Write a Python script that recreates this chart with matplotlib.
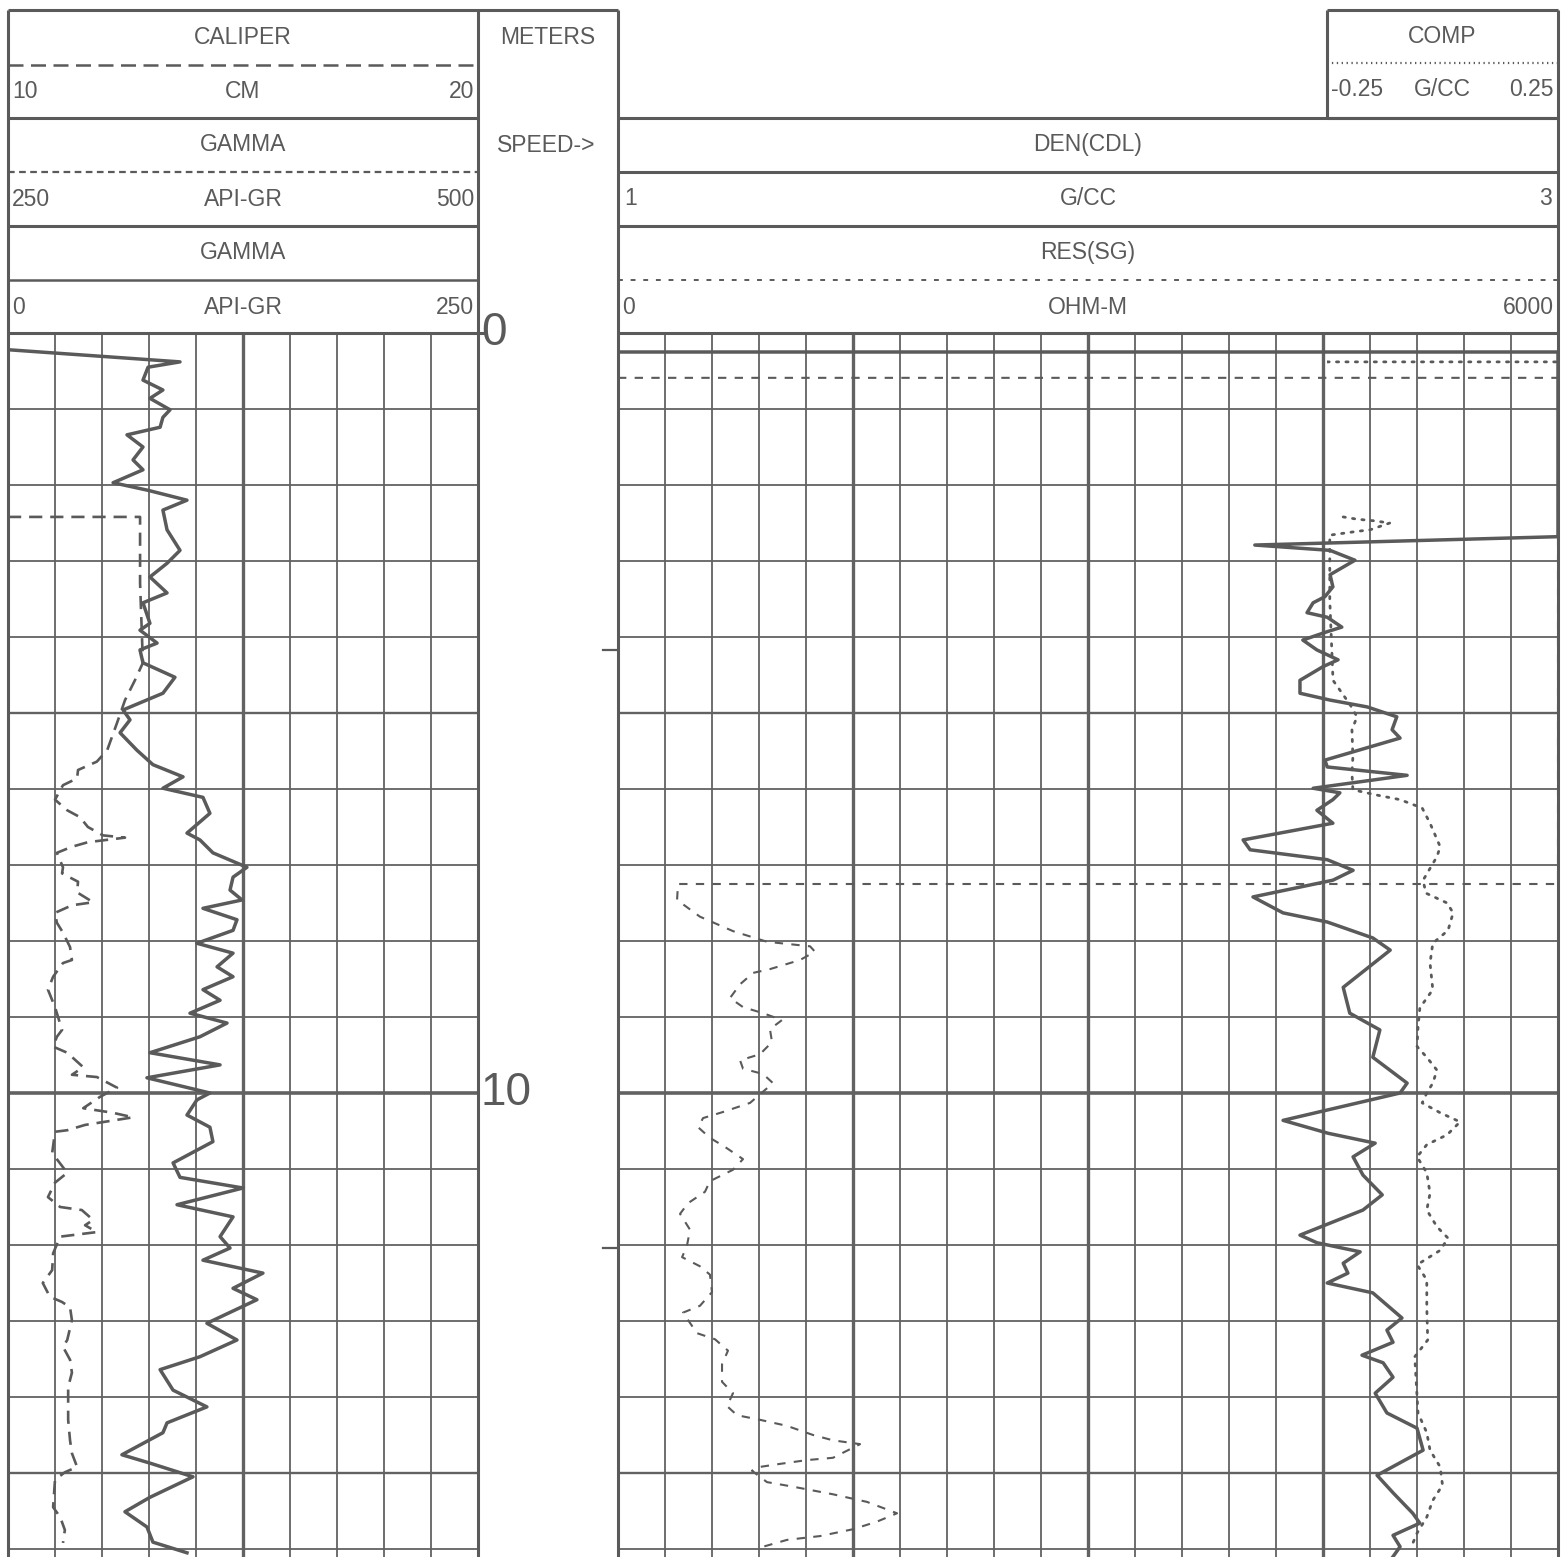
import matplotlib
matplotlib.use("Agg")
import matplotlib.pyplot as plt
import numpy as np

plt.rcParams['font.family'] = ['Liberation Sans', 'DejaVu Sans']

# ---------------- data ----------------
GR_DEPTH = [0.22, 0.38, 0.45, 0.62, 0.75, 0.86, 1.01, 1.11, 1.24, 1.34, 1.50, 1.67, 1.80, 1.97, 2.07, 2.20,
            2.33, 2.59, 2.86, 3.03, 3.21, 3.42, 3.55, 3.82, 3.91, 4.08, 4.17, 4.34, 4.53, 4.74, 4.96, 5.09,
            5.26, 5.49, 5.68, 5.84, 5.99, 6.11, 6.32, 6.58, 6.67, 6.84, 7.03, 7.16, 7.33, 7.46, 7.57, 7.72,
            7.86, 8.03, 8.16, 8.34, 8.47, 8.64, 8.78, 8.95, 9.08, 9.26, 9.47, 9.63, 9.80, 10.0, 10.09, 10.29,
            10.45, 10.64, 10.92, 11.11, 11.25, 11.47, 11.63, 11.89, 12.04, 12.20, 12.37, 12.57, 12.72, 13.03,
            13.25, 13.47, 13.64, 13.91, 14.13, 14.34, 14.47, 14.76, 14.87, 15.05, 15.32, 15.51, 15.71, 15.91, 16.05]
GR_VALUE = [0, 91.5, 74.5, 71.8, 82.4, 75.5, 86.2, 82.4, 80.9, 63.3, 71.8, 66.5, 71.8, 55.9, 74.5, 95.2,
            82.4, 84.6, 91.5, 84.6, 75.5, 84.6, 71.8, 75.5, 70.2, 79.3, 70.2, 71.8, 88.8, 82.4, 61.2, 64.9,
            59.6, 68.6, 77.1, 93.1, 82.4, 103.7, 107.4, 95.2, 102.1, 109.0, 127.1, 119.7, 118.1, 124.5, 103.7, 121.8,
            119.7, 100.5, 119.7, 111.2, 119.7, 103.7, 112.8, 96.8, 116.5, 102.1, 75.5, 112.8, 73.9, 107.4, 100.5, 95.2,
            107.4, 109.0, 87.8, 91.5, 125.0, 89.9, 119.7, 112.8, 118.1, 103.7, 135.6, 119.7, 132.4, 105.8,
            121.8, 102.1, 80.9, 87.8, 105.8, 84.6, 82.4, 60.6, 75.5, 98.4, 75.5, 62.2, 73.9, 77.1, 95.2]

CAL_DEPTH = [2.42, 2.42, 3.29, 4.34, 4.57, 4.83, 5.13, 5.49, 5.64, 5.75, 5.86, 5.95, 6.14, 6.28, 6.37, 6.50,
             6.61, 6.64, 6.70, 6.76, 6.84, 7.03, 7.11, 7.22, 7.36, 7.49, 7.53, 7.63, 7.76, 7.89, 8.08, 8.25,
             8.29, 8.47, 8.64, 8.87, 9.17, 9.26, 9.39, 9.47, 9.66, 9.76, 9.79, 9.93, 10.05, 10.20, 10.26, 10.32,
             10.42, 10.49, 10.51, 10.79, 11.05, 11.18, 11.37, 11.50, 11.54, 11.67, 11.74, 11.83, 11.89, 12.11,
             12.33, 12.50, 12.68, 12.75, 12.82, 12.99, 13.25, 13.34, 13.51, 13.68, 13.87, 14.30, 14.57, 14.74,
             14.92, 14.99, 15.09, 15.45, 15.58, 15.75, 15.92]
CAL_VALUE = [10.0, 12.81, 12.81, 12.87, 12.70, 12.49, 12.32, 12.11, 11.89, 11.49, 11.47, 11.17, 11.00, 11.26, 11.53, 11.70,
             12.02, 12.49, 11.70, 11.36, 11.04, 11.17, 11.15, 11.49, 11.47, 11.81, 11.36, 11.00, 11.04, 11.17, 11.32, 11.36,
             11.17, 10.96, 10.85, 11.00, 11.15, 11.04, 10.96, 11.26, 11.60, 11.36, 11.89, 12.32, 11.96, 11.60, 12.23, 12.66,
             11.64, 11.26, 11.00, 10.94, 11.26, 11.00, 10.85, 11.11, 11.57, 11.81, 11.64, 11.89, 11.11, 10.96,
             10.94, 10.74, 10.89, 11.15, 11.32, 11.36, 11.26, 11.17, 11.32, 11.36, 11.28, 11.28, 11.32, 11.36,
             11.47, 11.21, 11.00, 10.96, 11.11, 11.21, 11.17]

DEN_DEPTH = [0.25, 0.25, 2.68, 2.79, 2.86, 2.99, 3.18, 3.34, 3.47, 3.55, 3.68, 3.74, 3.87, 3.93, 4.04, 4.17,
             4.30, 4.39, 4.57, 4.74, 4.83, 4.92, 5.05, 5.22, 5.33, 5.62, 5.71, 5.82, 5.99, 6.05, 6.14, 6.28,
             6.45, 6.67, 6.80, 6.93, 7.07, 7.20, 7.42, 7.63, 7.75, 7.96, 8.12, 8.61, 8.95, 9.17, 9.53, 9.87,
             10.0, 10.36, 10.53, 10.66, 10.84, 11.08, 11.34, 11.54, 11.87, 11.97, 12.09, 12.24, 12.37, 12.50,
             12.63, 12.96, 13.12, 13.28, 13.45, 13.55, 13.74, 13.95, 14.21, 14.41, 14.70, 15.03, 15.26, 15.53,
             15.66, 15.82, 15.97, 16.1]
DEN_VALUE = [1.0, 3.0, 3.0, 2.355, 2.515, 2.568, 2.515, 2.521, 2.504, 2.479, 2.466, 2.509, 2.540, 2.509, 2.457, 2.487,
             2.532, 2.500, 2.451, 2.451, 2.515, 2.594, 2.657, 2.647, 2.664, 2.504, 2.509, 2.679, 2.479, 2.536, 2.521, 2.487,
             2.521, 2.330, 2.345, 2.509, 2.564, 2.521, 2.351, 2.415, 2.509, 2.606, 2.643, 2.543, 2.557, 2.621, 2.606, 2.679,
             2.664, 2.415, 2.511, 2.611, 2.564, 2.585, 2.626, 2.585, 2.451, 2.487, 2.579, 2.543, 2.553, 2.509,
             2.606, 2.668, 2.636, 2.649, 2.583, 2.628, 2.649, 2.611, 2.636, 2.700, 2.713, 2.615, 2.649, 2.691,
             2.706, 2.649, 2.664, 2.649]

# NaN marks the gap (no record) between the top peg and the start of the logged COMP data
COMP_DEPTH = [0.38, 0.38, 2.40, 2.42, 2.45, 2.47, 2.50, 2.59, 2.61, 2.66, 3.51, 4.57, 4.89, 5.05, 5.22, 5.58,
              5.79, 6.01, 6.08, 6.14, 6.25, 6.45, 6.76, 6.89, 7.20, 7.37, 7.50, 7.63, 7.86, 8.03, 8.29, 8.64,
              8.88, 9.13, 9.39, 9.53, 9.70, 9.87, 10.0, 10.13, 10.26, 10.38, 10.55, 10.68, 10.84, 11.05, 11.32,
              11.54, 11.76, 11.91, 12.07, 12.26, 12.46, 12.82, 13.25, 13.47, 14.00, 14.21, 14.47, 14.70, 14.92,
              15.16, 15.36, 15.58, 15.79, 15.92]
COMP_VALUE = [-0.25, 0.25, np.nan, -0.215, -0.185, -0.150, -0.114, -0.157, -0.185, -0.244, -0.244, -0.237, -0.200, -0.185, -0.196, -0.194,
              -0.196, -0.194, -0.142, -0.092, -0.044, -0.027, -0.005, -0.012, -0.042, -0.036, 0.010, 0.023, 0.012, -0.021, -0.027, -0.021,
              -0.049, -0.053, -0.055, -0.034, -0.012, -0.021, -0.034, -0.044, -0.005, 0.038, 0.010, -0.034, -0.055, -0.034, -0.027,
              -0.034, -0.012, 0.012, -0.005, -0.055, -0.034, -0.034, -0.032, -0.060, -0.055, -0.053, -0.034, -0.027, -0.005,
              0.000, -0.021, -0.034, -0.055, -0.064]

RES_DEPTH = [0.59, 0.59, 7.25, 7.25, 7.46, 7.68, 7.87, 8.01, 8.07, 8.14, 8.25, 8.37, 8.42, 8.57, 8.75, 8.87,
             8.95, 9.04, 9.16, 9.33, 9.49, 9.57, 9.68, 9.75, 9.87, 10.13, 10.25, 10.33, 10.45, 10.59, 10.71, 10.87,
             11.01, 11.16, 11.30, 11.45, 11.59, 11.80, 12.01, 12.16, 12.28, 12.39, 12.62, 12.80, 12.89, 13.16,
             13.24, 13.39, 13.57, 13.80, 13.95, 14.12, 14.24, 14.30, 14.38, 14.50, 14.57, 14.62, 14.80, 14.83,
             14.88, 14.92, 14.97, 15.12, 15.18, 15.28, 15.38, 15.53, 15.64, 15.74, 15.83, 15.88, 15.97]
RES_VALUE = [0, 6000, 6000, 383, 377, 523, 734, 951, 1226, 1257, 1162, 970, 862, 779, 715, 798,
             926, 1047, 970, 983, 906, 779, 798, 926, 989, 843, 670, 543, 511, 587, 683, 798,
             734, 587, 555, 447, 396, 460, 440, 409, 523, 587, 600, 523, 415, 504,
             619, 702, 664, 664, 734, 696, 760, 906, 1079, 1245, 1372, 1545, 1372, 1206,
             1034, 906, 855, 951, 1117, 1372, 1589, 1781, 1653, 1500, 1289, 1079, 926]

SPEED_MARKS = [4.17, 12.04]
DEPTH_LABELS = [0, 10]

# ---------------- layout / style ----------------
W, H = 1568, 1557
TOP, DATA_TOP = 10, 333
PX_PER_M = 76.0
DMAX = (H - DATA_TOP) / PX_PER_M
C = '#5a5a5a'
GRID_C = '#626262'

fig = plt.figure(figsize=(W / 100, H / 100), dpi=100)
fig.patch.set_facecolor('white')


def rect(x0, y0, x1, y1):
    return [x0 / W, 1 - y1 / H, (x1 - x0) / W, (y1 - y0) / H]


def clean(ax):
    ax.set_xticks([])
    ax.set_yticks([])
    for s in ax.spines.values():
        s.set_visible(False)
    ax.patch.set_alpha(0)


def hgrid(ax):
    for d in range(1, int(DMAX) + 1):
        lw = 2.6 if d % 10 == 0 else (1.7 if d % 5 == 0 else 1.3)
        ax.axhline(d, color=GRID_C, lw=lw, zorder=1)


# left track
ax_l = fig.add_axes(rect(8, DATA_TOP, 478, H))
clean(ax_l)
ax_l.set_xlim(0, 250)
ax_l.set_ylim(DMAX, 0)
for i in range(1, 10):
    ax_l.axvline(i * 25, color=GRID_C, lw=2.4 if i == 5 else 1.3, zorder=1)
hgrid(ax_l)
ax_l.plot(GR_VALUE, GR_DEPTH, color=C, lw=2.5, zorder=3, solid_joinstyle='round')
ax_cal = ax_l.twiny()
clean(ax_cal)
ax_cal.set_xlim(10, 20)
ax_cal.set_ylim(DMAX, 0)
ax_cal.plot(CAL_VALUE, CAL_DEPTH, color=C, lw=1.9, ls=(0, (5, 3)), zorder=3)

# depth track
ax_d = fig.add_axes(rect(478, DATA_TOP, 618, H))
clean(ax_d)
ax_d.set_xlim(0, 1)
ax_d.set_ylim(DMAX, 0)
for d in DEPTH_LABELS:
    ax_d.text(0.02, d, str(d), fontsize=33, color=C, ha='left', va='center')
for d in SPEED_MARKS:
    ax_d.plot([0.89, 1.0], [d, d], color=C, lw=1.6)

# right track
ax_r = fig.add_axes(rect(618, DATA_TOP, 1558, H))
clean(ax_r)
ax_r.set_xlim(1, 3)
ax_r.set_ylim(DMAX, 0)
for i in range(1, 20):
    ax_r.axvline(1 + i * 0.1, color=GRID_C, lw=2.4 if i % 5 == 0 else 1.3, zorder=1)
hgrid(ax_r)
ax_r.plot(DEN_VALUE, DEN_DEPTH, color=C, lw=2.5, zorder=3, solid_joinstyle='round')
ax_res = ax_r.twiny()
clean(ax_res)
ax_res.set_xlim(0, 6000)
ax_res.set_ylim(DMAX, 0)
ax_res.plot(RES_VALUE, RES_DEPTH, color=C, lw=1.5, ls=(0, (4, 4)), zorder=3)

ax_c = fig.add_axes(rect(1327, DATA_TOP, 1558, H))
clean(ax_c)
ax_c.set_xlim(-0.25, 0.25)
ax_c.set_ylim(DMAX, 0)
ax_c.plot(COMP_VALUE, COMP_DEPTH, color=C, lw=2.0, ls=(0, (0.8, 2.6)), zorder=3,
          dash_capstyle='round')

# header & borders overlay (pixel coordinates)
ax_h = fig.add_axes([0, 0, 1, 1])
clean(ax_h)
ax_h.set_xlim(0, W)
ax_h.set_ylim(H, 0)
ax_h.set_zorder(10)


def seg(x0, x1, y0, y1, lw=2.2, ls='-'):
    ax_h.plot([x0, x1], [y0, y1], color=C, lw=lw, ls=ls, solid_capstyle='butt')


# outer borders
seg(8, 618, TOP, TOP)
seg(1327, 1558, TOP, TOP)
seg(8, 8, TOP, H)
seg(478, 478, TOP, H)
seg(618, 618, TOP, H)
seg(1558, 1558, TOP, H)
seg(1327, 1327, TOP, 118)
for y in (118, 226, DATA_TOP):
    seg(8, 478, y, y)
    seg(618, 1558, y, y)
seg(1327, 1558, 118, 118)
seg(478, 486, DATA_TOP, DATA_TOP)
# curve-style separators
seg(8, 478, 65, 65, lw=1.8, ls=(0, (6, 3)))
seg(8, 478, 172, 172, lw=1.6, ls=(0, (3, 2)))
seg(8, 478, 280, 280, lw=1.8)
seg(1327, 1558, 63, 63, lw=1.6, ls=(0, (0.6, 1.6)))
seg(618, 1558, 172, 172, lw=2.2)
seg(618, 1558, 280, 280, lw=1.4, ls=(0, (2.5, 4)))

FS = 16.5
tk = dict(fontsize=FS, color=C, va='center')


def trio(x0, x1, y, left, mid, right, pad=4):
    ax_h.text(x0 + pad, y, left, ha='left', **tk)
    ax_h.text((x0 + x1) / 2, y, mid, ha='center', **tk)
    ax_h.text(x1 - pad, y, right, ha='right', **tk)


ax_h.text(243, 37, 'CALIPER', ha='center', **tk)
trio(8, 478, 91, '10', 'CM', '20')
ax_h.text(243, 144, 'GAMMA', ha='center', **tk)
trio(8, 478, 199, '250', 'API-GR', '500')
ax_h.text(243, 252, 'GAMMA', ha='center', **tk)
trio(8, 478, 307, '0', 'API-GR', '250')
ax_h.text(548, 37, 'METERS', ha='center', **tk)
ax_h.text(546, 145, 'SPEED->', ha='center', **tk)
ax_h.text(1442, 36, 'COMP', ha='center', **tk)
trio(1327, 1558, 89, '-0.25', 'G/CC', '0.25')
ax_h.text(1088, 144, 'DEN(CDL)', ha='center', **tk)
trio(618, 1558, 198, '1', 'G/CC', '3', pad=6)
ax_h.text(1088, 252, 'RES(SG)', ha='center', **tk)
trio(618, 1558, 307, '0', 'OHM-M', '6000')

fig.savefig('out.png', dpi=100, facecolor='white')
